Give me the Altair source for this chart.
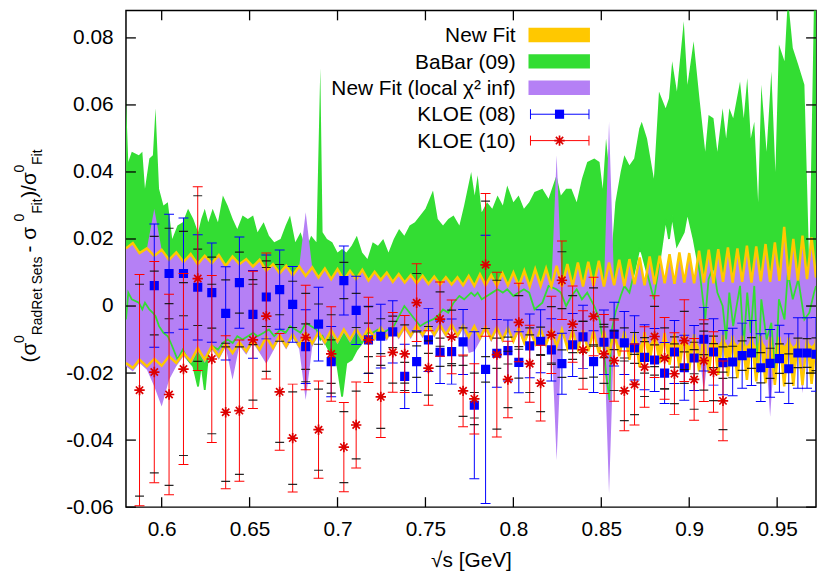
import altair as alt
import pandas as pd

# ---------------- data ----------------
kloe08_x = [0.5958, 0.6042, 0.6124, 0.6205, 0.6285, 0.6364, 0.6442, 0.6519, 0.6595, 0.6671,
            0.6745, 0.6819, 0.6892, 0.6964, 0.7036, 0.7106, 0.7176, 0.7246, 0.7314, 0.7382,
            0.7450, 0.7517, 0.7583, 0.7649, 0.7714, 0.7778, 0.7842, 0.7906, 0.7969, 0.8031,
            0.8093, 0.8155, 0.8216, 0.8276, 0.8337, 0.8396, 0.8456, 0.8515, 0.8573, 0.8631,
            0.8689, 0.8746, 0.8803, 0.8860, 0.8916, 0.8972, 0.9028, 0.9083, 0.9138, 0.9192,
            0.9247, 0.9301, 0.9354, 0.9407, 0.9460, 0.9513, 0.9566, 0.9618, 0.9670, 0.9721]
kloe08_y = [0.0061, 0.0097, 0.0097, 0.0056, 0.0040, -0.0022, 0.0070, -0.0025, 0.0027, 0.0049,
            0.0005, -0.0121, -0.0054, -0.0166, 0.0076, -0.0013, -0.0101, -0.0090, -0.0077, -0.0210,
            -0.0166, -0.0101, -0.0138, -0.0136, -0.0107, -0.0296, -0.0189, -0.0141, -0.0133, -0.0168,
            -0.0119, -0.0105, -0.0131, -0.0172, -0.0116, -0.0092, -0.0166, -0.0108, -0.0084, -0.0110,
            -0.0125, -0.0153, -0.0161, -0.0200, -0.0137, -0.0184, -0.0155, -0.0099, -0.0137, -0.0169,
            -0.0167, -0.0148, -0.0140, -0.0184, -0.0171, -0.0157, -0.0187, -0.0140, -0.0140, -0.0144]
kloe08_err = [0.0184, 0.0177, 0.0166, 0.0157, 0.0148, 0.0139, 0.0136, 0.0131, 0.0125, 0.0118,
              0.0113, 0.0110, 0.0110, 0.0105, 0.0103, 0.0102, 0.0100, 0.0095, 0.0093, 0.0096,
              0.0092, 0.0094, 0.0093, 0.0097, 0.0097, 0.0219, 0.0400, 0.0101, 0.0091, 0.0091,
              0.0095, 0.0094, 0.0093, 0.0091, 0.0094, 0.0094, 0.0092, 0.0096, 0.0095, 0.0094,
              0.0096, 0.0097, 0.0094, 0.0091, 0.0094, 0.0097, 0.0097, 0.0095, 0.0099, 0.0096,
              0.0101, 0.0097, 0.0097, 0.0101, 0.0101, 0.0100, 0.0104, 0.0105, 0.0105, 0.0110]
kloe08_inner = [0.0147, 0.0135, 0.0126, 0.0114, 0.0106, 0.0100, 0.0091, 0.0090, 0.0088, 0.0075,
                0.0069, 0.0068, 0.0060, 0.0065, 0.0054, 0.0051, 0.0050, 0.0052, 0.0047, 0.0042,
                0.0047, 0.0040, 0.0042, 0.0042, 0.0042, 0.0038, 0.0038, 0.0045, 0.0040, 0.0047,
                0.0054, 0.0042, 0.0043, 0.0041, 0.0043, 0.0046, 0.0046, 0.0046, 0.0046, 0.0045,
                0.0046, 0.0047, 0.0045, 0.0047, 0.0045, 0.0047, 0.0047, 0.0046, 0.0047, 0.0047,
                0.0047, 0.0044, 0.0046, 0.0045, 0.0045, 0.0044, 0.0044, 0.0044, 0.0043, 0.0049]

kloe10_x = [0.5874, 0.5958, 0.6042, 0.6124, 0.6205, 0.6285, 0.6364, 0.6442, 0.6519, 0.6595,
            0.6671, 0.6745, 0.6819, 0.6892, 0.6964, 0.7036, 0.7106, 0.7176, 0.7246, 0.7314,
            0.7382, 0.7450, 0.7517, 0.7583, 0.7649, 0.7714, 0.7778, 0.7842, 0.7906, 0.7969,
            0.8031, 0.8093, 0.8155, 0.8216, 0.8276, 0.8337, 0.8396, 0.8456, 0.8515, 0.8573,
            0.8631, 0.8689, 0.8746, 0.8803, 0.8860, 0.8916, 0.8972, 0.9028, 0.9083, 0.9138,
            0.9192]
kloe10_y = [-0.0251, -0.0197, -0.0264, -0.0188, 0.0082, -0.0158, -0.0317, -0.0312, -0.0101, -0.0030,
            -0.0256, -0.0394, -0.0094, -0.0369, -0.0143, -0.0421, -0.0355, -0.0101, -0.0271, -0.0138,
            -0.0143, 0.0010, -0.0185, -0.0039, -0.0092, -0.0253, -0.0277, 0.0123, -0.0145, -0.0219,
            -0.0049, -0.0172, -0.0230, -0.0086, 0.0077, -0.0054, -0.0131, -0.0031, -0.0143, -0.0163,
            -0.0253, -0.0234, -0.0182, -0.0091, -0.0156, -0.0202, -0.0103, -0.0219, -0.0163, -0.0197,
            -0.0283]
kloe10_err = [0.0345, 0.0330, 0.0299, 0.0285, 0.0274, 0.0249, 0.0228, 0.0211, 0.0205, 0.0188,
              0.0174, 0.0161, 0.0156, 0.0145, 0.0141, 0.0133, 0.0128, 0.0127, 0.0121, 0.0119,
              0.0115, 0.0116, 0.0111, 0.0111, 0.0110, 0.0107, 0.0105, 0.0213, 0.0246, 0.0114,
              0.0117, 0.0115, 0.0113, 0.0115, 0.0117, 0.0114, 0.0117, 0.0117, 0.0118, 0.0121,
              0.0119, 0.0121, 0.0120, 0.0122, 0.0122, 0.0122, 0.0122, 0.0122, 0.0122, 0.0120,
              0.0119]
kloe10_inner = [0.0316, 0.0301, 0.0271, 0.0258, 0.0247, 0.0223, 0.0206, 0.0190, 0.0180, 0.0165,
                0.0151, 0.0138, 0.0132, 0.0121, 0.0117, 0.0106, 0.0101, 0.0099, 0.0094, 0.0092,
                0.0087, 0.0087, 0.0081, 0.0081, 0.0080, 0.0076, 0.0077, 0.0190, 0.0222, 0.0084,
                0.0080, 0.0086, 0.0085, 0.0084, 0.0085, 0.0085, 0.0085, 0.0085, 0.0088, 0.0089,
                0.0089, 0.0090, 0.0088, 0.0090, 0.0091, 0.0089, 0.0087, 0.0089, 0.0088, 0.0085,
                0.0086]

babar_x = [0.5797, 0.5810, 0.5830, 0.5870, 0.5890, 0.5905, 0.5930, 0.5950, 0.5965, 0.5985,
           0.6010, 0.6035, 0.6060, 0.6090, 0.6120, 0.6150, 0.6180, 0.6207, 0.6225, 0.6245,
           0.6265, 0.6290, 0.6320, 0.6348, 0.6375, 0.6404, 0.6430, 0.6460, 0.6490, 0.6520,
           0.6545, 0.6580, 0.6610, 0.6640, 0.6676, 0.6705, 0.6730, 0.6760, 0.6790, 0.6820,
           0.6850, 0.6880, 0.6902, 0.6915, 0.6940, 0.6970, 0.7000, 0.7026, 0.7050, 0.7080,
           0.7110, 0.7140, 0.7170, 0.7200, 0.7230, 0.7260, 0.7290, 0.7320, 0.7350, 0.7380,
           0.7410, 0.7440, 0.7470, 0.7500, 0.7543, 0.7570, 0.7600, 0.7630, 0.7660, 0.7693,
           0.7720, 0.7760, 0.7780, 0.7797, 0.7820, 0.7850, 0.7880, 0.7910, 0.7940, 0.7965,
           0.8000, 0.8030, 0.8060, 0.8090, 0.8120, 0.8165, 0.8200, 0.8245, 0.8270, 0.8300,
           0.8330, 0.8360, 0.8390, 0.8420, 0.8460, 0.8490, 0.8508, 0.8527, 0.8546, 0.8556,
           0.8580, 0.8610, 0.8631, 0.8660, 0.8687, 0.8716, 0.8730, 0.8760, 0.8799, 0.8828,
           0.8866, 0.8885, 0.8903, 0.8930, 0.8969, 0.8990, 0.9025, 0.9060, 0.9091, 0.9110,
           0.9138, 0.9160, 0.9190, 0.9210, 0.9228, 0.9250, 0.9289, 0.9310, 0.9330, 0.9350,
           0.9370, 0.9392, 0.9410, 0.9440, 0.9467, 0.9490, 0.9510, 0.9542, 0.9561, 0.9589,
           0.9620, 0.9655, 0.9683, 0.9710, 0.9721]
babar_hi = [0.062, 0.043, 0.046, 0.045, 0.046, 0.035, 0.044, 0.045, 0.059, 0.035,
            0.030, 0.031, 0.020, 0.024, 0.025, 0.029, 0.026, 0.022, 0.026, 0.029,
            0.025, 0.029, 0.025, 0.033, 0.030, 0.026, 0.023, 0.027, 0.026, 0.027,
            0.022, 0.025, 0.021, 0.019, 0.020, 0.024, 0.027, 0.019, 0.022, 0.017,
            0.021, 0.019, 0.071, 0.022, 0.020, 0.019, 0.016, 0.017, 0.016, 0.018,
            0.021, 0.016, 0.014, 0.019, 0.018, 0.020, 0.016, 0.020, 0.023, 0.021,
            0.024, 0.025, 0.027, 0.029, 0.0345, 0.026, 0.024, 0.026, 0.027, 0.024,
            0.030, 0.040, 0.033, 0.039, 0.028, 0.031, 0.029, 0.033, 0.030, 0.036,
            0.031, 0.033, 0.029, 0.031, 0.034, 0.035, 0.032, 0.039, 0.033, 0.035,
            0.035, 0.031, 0.038, 0.043, 0.044, 0.043, 0.035, 0.050, 0.040, 0.014,
            0.031, 0.040, 0.045, 0.042, 0.044, 0.053, 0.055, 0.050, 0.038, 0.064,
            0.059, 0.062, 0.073, 0.064, 0.085, 0.066, 0.079, 0.061, 0.046, 0.057,
            0.056, 0.046, 0.059, 0.050, 0.059, 0.056, 0.067, 0.056, 0.068, 0.050,
            0.055, 0.031, 0.066, 0.046, 0.070, 0.040, 0.078, 0.073, 0.092, 0.077,
            0.072, 0.066, 0.011, 0.092, 0.092]
babar_lo = [-0.004, 0.004, 0.002, 0.001, -0.001, 0.001, -0.001, -0.002, -0.003, -0.006,
            -0.008, -0.009, -0.012, -0.016, -0.013, -0.016, -0.018, -0.024, -0.017, -0.025,
            -0.014, -0.012, -0.013, -0.011, -0.010, -0.011, -0.009, -0.010, -0.009, -0.008,
            -0.009, -0.008, -0.007, -0.009, -0.007, -0.008, -0.006, -0.007, -0.008, -0.005,
            -0.006, -0.007, -0.010, -0.009, -0.012, -0.015, -0.018, -0.027, -0.017, -0.016,
            -0.013, -0.011, -0.008, -0.008, -0.007, -0.008, -0.007, -0.006, -0.003, 0.000,
            -0.002, -0.004, -0.006, -0.005, -0.004, -0.003, -0.001, -0.002, 0.001, 0.003,
            0.002, 0.004, 0.003, 0.004, 0.002, 0.003, 0.004, 0.005, 0.004, 0.005,
            0.003, 0.004, 0.005, 0.004, -0.001, 0.001, 0.006, 0.005, 0.004, 0.000,
            0.003, 0.005, 0.002, 0.004, 0.000, -0.004, -0.010, -0.020, -0.028, -0.008,
            -0.002, 0.003, 0.006, 0.004, 0.010, 0.017, 0.016, 0.010, 0.002, 0.012,
            0.026, 0.020, 0.027, 0.018, 0.022, 0.028, 0.020, 0.010, -0.004, 0.008,
            0.012, 0.004, 0.000, -0.010, 0.004, -0.006, 0.006, -0.012, 0.004, -0.008,
            0.006, -0.020, 0.002, -0.010, -0.005, -0.022, 0.002, -0.004, 0.010, 0.002,
            0.008, -0.004, -0.002, 0.004, 0.006]

band_x = [0.5797, 0.5836, 0.5874, 0.5916, 0.5958, 0.6000, 0.6042, 0.6083, 0.6124, 0.6165,
          0.6205, 0.6245, 0.6285, 0.6325, 0.6364, 0.6403, 0.6442, 0.6481, 0.6519, 0.6557,
          0.6595, 0.6633, 0.6671, 0.6708, 0.6745, 0.6782, 0.6819, 0.6856, 0.6892, 0.6928,
          0.6964, 0.7000, 0.7036, 0.7071, 0.7106, 0.7141, 0.7176, 0.7211, 0.7246, 0.7280,
          0.7314, 0.7348, 0.7382, 0.7416, 0.7450, 0.7484, 0.7517, 0.7550, 0.7583, 0.7616,
          0.7649, 0.7682, 0.7714, 0.7746, 0.7778, 0.7810, 0.7842, 0.7874, 0.7906, 0.7938,
          0.7969, 0.8000, 0.8031, 0.8062, 0.8093, 0.8124, 0.8155, 0.8186, 0.8216, 0.8246,
          0.8276, 0.8307, 0.8337, 0.8367, 0.8396, 0.8426, 0.8456, 0.8486, 0.8515, 0.8544,
          0.8573, 0.8602, 0.8631, 0.8660, 0.8689, 0.8718, 0.8746, 0.8775, 0.8803, 0.8832,
          0.8860, 0.8888, 0.8916, 0.8944, 0.8972, 0.9000, 0.9028, 0.9056, 0.9083, 0.9111,
          0.9138, 0.9165, 0.9192, 0.9220, 0.9247, 0.9274, 0.9301, 0.9328, 0.9354, 0.9381,
          0.9407, 0.9434, 0.9460, 0.9487, 0.9513, 0.9540, 0.9566, 0.9592, 0.9618, 0.9644,
          0.9670, 0.9696, 0.9721]
newfit_hi = [0.0172, 0.0188, 0.0158, 0.0172, 0.0150, 0.0168, 0.0138, 0.0160, 0.0132, 0.0155,
             0.0125, 0.0150, 0.0128, 0.0152, 0.0120, 0.0148, 0.0125, 0.0140, 0.0118, 0.0138,
             0.0105, 0.0125, 0.0098, 0.0120, 0.0092, 0.0118, 0.0090, 0.0115, 0.0085, 0.0112,
             0.0080, 0.0110, 0.0078, 0.0105, 0.0080, 0.0108, 0.0076, 0.0102, 0.0078, 0.0100,
             0.0072, 0.0095, 0.0070, 0.0092, 0.0068, 0.0090, 0.0066, 0.0088, 0.0064, 0.0086,
             0.0064, 0.0086, 0.0062, 0.0090, 0.0060, 0.0095, 0.0062, 0.0092, 0.0060, 0.0098,
             0.0062, 0.0100, 0.0060, 0.0105, 0.0058, 0.0110, 0.0060, 0.0112, 0.0058, 0.0120,
             0.0058, 0.0125, 0.0060, 0.0130, 0.0058, 0.0132, 0.0060, 0.0135, 0.0058, 0.0130,
             0.0062, 0.0138, 0.0060, 0.0140, 0.0065, 0.0145, 0.0062, 0.0148, 0.0065, 0.0150,
             0.0068, 0.0155, 0.0066, 0.0160, 0.0070, 0.0158, 0.0068, 0.0165, 0.0070, 0.0168,
             0.0068, 0.0170, 0.0072, 0.0175, 0.0070, 0.0172, 0.0072, 0.0180, 0.0070, 0.0178,
             0.0074, 0.0185, 0.0072, 0.0190, 0.0075, 0.0236, 0.0078, 0.0200, 0.0076, 0.0210,
             0.0080, 0.0205, 0.0085]
newfit_lo = [-0.0170, -0.0185, -0.0160, -0.0180, -0.0158, -0.0178, -0.0150, -0.0170, -0.0140, -0.0165,
             -0.0125, -0.0160, -0.0120, -0.0150, -0.0112, -0.0140, -0.0108, -0.0135, -0.0100, -0.0130,
             -0.0092, -0.0125, -0.0088, -0.0120, -0.0085, -0.0118, -0.0080, -0.0112, -0.0078, -0.0108,
             -0.0072, -0.0105, -0.0070, -0.0100, -0.0068, -0.0098, -0.0066, -0.0096, -0.0064, -0.0094,
             -0.0062, -0.0090, -0.0060, -0.0088, -0.0058, -0.0086, -0.0056, -0.0085, -0.0056, -0.0085,
             -0.0056, -0.0088, -0.0058, -0.0092, -0.0060, -0.0095, -0.0062, -0.0098, -0.0064, -0.0100,
             -0.0066, -0.0105, -0.0066, -0.0110, -0.0068, -0.0112, -0.0068, -0.0115, -0.0070, -0.0120,
             -0.0070, -0.0125, -0.0072, -0.0130, -0.0072, -0.0135, -0.0074, -0.0140, -0.0074, -0.0145,
             -0.0076, -0.0150, -0.0076, -0.0160, -0.0078, -0.0182, -0.0078, -0.0165, -0.0080, -0.0170,
             -0.0080, -0.0175, -0.0082, -0.0185, -0.0082, -0.0190, -0.0084, -0.0195, -0.0084, -0.0200,
             -0.0086, -0.0205, -0.0086, -0.0210, -0.0088, -0.0215, -0.0088, -0.0220, -0.0090, -0.0225,
             -0.0090, -0.0230, -0.0092, -0.0235, -0.0092, -0.0240, -0.0094, -0.0238, -0.0094, -0.0236,
             -0.0096, -0.0232, -0.0098]
local_hi = [0.0172, 0.0188, 0.0158, 0.0172, 0.0290, 0.0168, 0.0138, 0.0160, 0.0132, 0.0155,
            0.0125, 0.0150, 0.0128, 0.0152, 0.0120, 0.0148, 0.0125, 0.0140, 0.0118, 0.0138,
            0.0105, 0.0125, 0.0098, 0.0120, 0.0092, 0.0118, 0.0280, 0.0115, 0.0085, 0.0112,
            0.0080, 0.0110, 0.0078, 0.0105, 0.0080, 0.0108, 0.0076, 0.0102, 0.0078, 0.0100,
            0.0072, 0.0095, 0.0070, 0.0092, 0.0068, 0.0090, 0.0066, 0.0088, 0.0064, 0.0086,
            0.0064, 0.0086, 0.0062, 0.0090, 0.0060, 0.0095, 0.0062, 0.0092, 0.0060, 0.0098,
            0.0062, 0.0100, 0.0060, 0.0105, 0.0058, 0.0110, 0.0060, 0.0112, 0.0058, 0.0450,
            0.0058, 0.0125, 0.0060, 0.0130, 0.0058, 0.0132, 0.0060, 0.0135, 0.0058, 0.0550,
            0.0062, 0.0138, 0.0060, 0.0140, 0.0065, 0.0145, 0.0062, 0.0148, 0.0065, 0.0150,
            0.0068, 0.0155, 0.0066, 0.0160, 0.0070, 0.0158, 0.0068, 0.0165, 0.0070, 0.0168,
            0.0068, 0.0170, 0.0072, 0.0175, 0.0070, 0.0172, 0.0072, 0.0180, 0.0070, 0.0178,
            0.0074, 0.0185, 0.0072, 0.0190, 0.0075, 0.0236, 0.0078, 0.0200, 0.0076, 0.0210,
            0.0080, 0.0205, 0.0085]
local_lo = [-0.0180, -0.0195, -0.0170, -0.0190, -0.0240, -0.0300, -0.0220, -0.0180, -0.0150, -0.0175,
            -0.0135, -0.0170, -0.0130, -0.0160, -0.0122, -0.0220, -0.0118, -0.0145, -0.0110, -0.0140,
            -0.0172, -0.0135, -0.0098, -0.0130, -0.0095, -0.0128, -0.0280, -0.0122, -0.0088, -0.0118,
            -0.0082, -0.0115, -0.0080, -0.0110, -0.0078, -0.0108, -0.0076, -0.0106, -0.0074, -0.0104,
            -0.0072, -0.0100, -0.0070, -0.0098, -0.0068, -0.0096, -0.0066, -0.0095, -0.0066, -0.0095,
            -0.0066, -0.0098, -0.0068, -0.0140, -0.0135, -0.0105, -0.0072, -0.0108, -0.0074, -0.0110,
            -0.0076, -0.0112, -0.0076, -0.0115, -0.0078, -0.0115, -0.0078, -0.0118, -0.0080, -0.0460,
            -0.0080, -0.0125, -0.0082, -0.0128, -0.0082, -0.0130, -0.0084, -0.0132, -0.0084, -0.0560,
            -0.0086, -0.0120, -0.0086, -0.0118, -0.0088, -0.0120, -0.0088, -0.0115, -0.0090, -0.0118,
            -0.0090, -0.0115, -0.0092, -0.0118, -0.0092, -0.0120, -0.0094, -0.0122, -0.0260, -0.0120,
            -0.0096, -0.0118, -0.0096, -0.0120, -0.0098, -0.0118, -0.0098, -0.0120, -0.0100, -0.0122,
            -0.0100, -0.0120, -0.0330, -0.0122, -0.0102, -0.0120, -0.0102, -0.0122, -0.0104, -0.0260,
            -0.0104, -0.0120, -0.0106]

x_ticks = [0.6, 0.65, 0.7, 0.75, 0.8, 0.85, 0.9, 0.95]
y_ticks = [-0.06, -0.04, -0.02, 0, 0.02, 0.04, 0.06, 0.08]

legend_labels = ["New Fit", "BaBar (09)", "New Fit (local \u03c7\u00b2 inf)", "KLOE (08)", "KLOE (10)"]

# ---------------- styling ----------------
W, H = 696, 501
FONT = "Liberation Sans"
YELLOW = "#ffc800"
GREEN = "#33dd33"
PURPLE = "#b580f5"
BLUE = "#0000ff"
RED = "#ff0000"
STAR = "M-1,0L1,0M0,-1L0,1M-0.7,-0.7L0.7,0.7M-0.7,0.7L0.7,-0.7"

XS = alt.Scale(domain=[0.5797, 0.9721], nice=False, zero=False)
YS = alt.Scale(domain=[-0.06, 0.0882], nice=False, zero=False)

xaxis = alt.Axis(values=x_ticks, format="~g", ticks=False, tickSize=0, domain=False, grid=False,
                 labelFont=FONT, labelFontSize=21, labelColor="black", labelPadding=12,
                 labelFlush=False,
                 title="\u221as [GeV]", titleFont=FONT, titleFontSize=21, titleFontWeight="normal",
                 titleColor="black", titleY=60, titleBaseline="alphabetic")
yaxis = alt.Axis(values=y_ticks, ticks=False, tickSize=0, domain=False, grid=False,
                 labelExpr="datum.value == 0 ? '0' : replace(format(datum.value, '.2f'), '\u2212', '-')",
                 labelFont=FONT, labelFontSize=21, labelColor="black", labelPadding=13,
                 title=None)


def X(f):
    return alt.X(f"{f}:Q", scale=XS, axis=xaxis)


def Y(f):
    return alt.Y(f"{f}:Q", scale=YS, axis=yaxis)


df_bb = pd.DataFrame({"x": babar_x, "lo": babar_lo, "hi": babar_hi})
df_band = pd.DataFrame({"x": band_x, "nlo": newfit_lo, "nhi": newfit_hi,
                        "llo": local_lo, "lhi": local_hi})
df08 = pd.DataFrame({"x": kloe08_x, "y": kloe08_y, "e": kloe08_err, "i": kloe08_inner})
df10 = pd.DataFrame({"x": kloe10_x, "y": kloe10_y, "e": kloe10_err, "i": kloe10_inner})
for d in (df08, df10):
    d["lo"] = d["y"] - d["e"]
    d["hi"] = d["y"] + d["e"]
    d["ilo"] = d["y"] - d["i"]
    d["ihi"] = d["y"] + d["i"]
df_xt = pd.DataFrame({"v": x_ticks})
df_yt = pd.DataFrame({"v": y_ticks})
one = pd.DataFrame({"k": [0]})

layers = []

# bands
layers.append(alt.Chart(df_bb).mark_area(color=GREEN, opacity=1, clip=True)
              .encode(x=X("x"), y=Y("lo"), y2=alt.Y2("hi")))
layers.append(alt.Chart(df_band).mark_area(color=YELLOW, opacity=1, clip=True)
              .encode(x=X("x"), y=Y("nlo"), y2=alt.Y2("nhi")))
layers.append(alt.Chart(df_band).mark_area(color=PURPLE, opacity=1, clip=True)
              .encode(x=X("x"), y=Y("llo"), y2=alt.Y2("lhi")))
layers.append(alt.Chart(df_bb).mark_line(color=GREEN, strokeWidth=1.8, clip=True)
              .encode(x=X("x"), y=Y("lo")))
layers.append(alt.Chart(df_band).mark_line(color=YELLOW, strokeWidth=2.5, clip=True)
              .encode(x=X("x"), y=Y("nhi")))
layers.append(alt.Chart(df_band).mark_line(color=YELLOW, strokeWidth=2.5, clip=True)
              .encode(x=X("x"), y=Y("nlo")))


def errbars(df, color, marker):
    out = []
    out.append(alt.Chart(df).mark_rule(color=color, strokeWidth=1, clip=True)
               .encode(x=X("x"), y=Y("lo"), y2=alt.Y2("hi")))
    for f in ("lo", "hi"):
        out.append(alt.Chart(df).mark_tick(color=color, orient="horizontal", size=10,
                                           thickness=1, opacity=1, clip=True)
                   .encode(x=X("x"), y=Y(f)))
    for f in ("ilo", "ihi"):
        out.append(alt.Chart(df).mark_tick(color="#111111", orient="horizontal", size=9,
                                           thickness=1.2, opacity=0.9, clip=True)
                   .encode(x=X("x"), y=Y(f)))
    out.append(marker(alt.Chart(df)).encode(x=X("x"), y=Y("y")))
    return out


layers += errbars(df08, BLUE,
                  lambda c: c.mark_point(shape="square", filled=True, size=85, color=BLUE,
                                         opacity=1, clip=True))
layers += errbars(df10, RED,
                  lambda c: c.mark_point(shape=STAR, filled=False, size=110, color="#dd0000",
                                         strokeWidth=1.7, opacity=1, clip=True))

# inward ticks on all four sides
layers.append(alt.Chart(df_xt).mark_rule(color="black", strokeWidth=1.3)
              .encode(x=X("v"), y=alt.value(H - 10), y2=alt.value(H)))
layers.append(alt.Chart(df_xt).mark_rule(color="black", strokeWidth=1.3)
              .encode(x=X("v"), y=alt.value(0), y2=alt.value(10)))
layers.append(alt.Chart(df_yt).mark_rule(color="black", strokeWidth=1.3)
              .encode(y=Y("v"), x=alt.value(0), x2=alt.value(10)))
layers.append(alt.Chart(df_yt).mark_rule(color="black", strokeWidth=1.3)
              .encode(y=Y("v"), x=alt.value(W - 10), x2=alt.value(W)))

# legend
LX_TEXT = 393
BOX_X0, BOX_X1 = 406, 468
rows_base = [32, 58.7, 85.3, 112, 138.7]
for lab, yb in zip(legend_labels, rows_base):
    layers.append(alt.Chart(one).mark_text(text=lab, font=FONT, fontSize=21, color="black",
                                           align="right", baseline="alphabetic")
                  .encode(x=alt.value(LX_TEXT), y=alt.value(yb)))
for col, yb in zip([YELLOW, GREEN, PURPLE], rows_base[:3]):
    layers.append(alt.Chart(one).mark_rect(color=col, opacity=1)
                  .encode(x=alt.value(BOX_X0), x2=alt.value(BOX_X1),
                          y=alt.value(yb - 14.5), y2=alt.value(yb)))
for col, yc, mk in [(BLUE, 104.7, "sq"), (RED, 131.3, "st")]:
    layers.append(alt.Chart(one).mark_rule(color=col, strokeWidth=1)
                  .encode(x=alt.value(BOX_X0 + 2), x2=alt.value(BOX_X1 - 1), y=alt.value(yc)))
    for xe in (BOX_X0 + 2, BOX_X1 - 1):
        layers.append(alt.Chart(one).mark_rule(color=col, strokeWidth=1)
                      .encode(x=alt.value(xe), y=alt.value(yc - 5), y2=alt.value(yc + 5)))
    if mk == "sq":
        m = alt.Chart(one).mark_point(shape="square", filled=True, size=85, color=BLUE, opacity=1)
    else:
        m = alt.Chart(one).mark_point(shape=STAR, filled=False, size=110, color="#dd0000",
                                      strokeWidth=1.7, opacity=1)
    layers.append(m.encode(x=alt.value(437.3), y=alt.value(yc)))

# rotated y-axis title built from pieces (main / superscript / subscript)
MAIN_X, SUP_X, SUB_X = -91, -103, -85
title_pieces = [
    ("(\u03c3", 21, MAIN_X, 355.0),
    ("0", 14, SUP_X, 335.4),
    ("RadRet Sets", 14, SUB_X, 327.6),
    (" - \u03c3", 21, MAIN_X, 244.2),
    ("0", 14, SUP_X, 213.0),
    ("Fit", 14, SUB_X, 205.2),
    (")/\u03c3", 21, MAIN_X, 189.0),
    ("0", 14, SUP_X, 163.6),
    ("Fit", 14, SUB_X, 155.8),
]
for t, fs, xp, yp in title_pieces:
    layers.append(alt.Chart(one).mark_text(text=t, font=FONT, fontSize=fs, color="black",
                                           angle=270, align="left", baseline="alphabetic")
                  .encode(x=alt.value(xp), y=alt.value(yp)))

chart = (alt.layer(*layers)
         .properties(width=W, height=H,
                     padding={"left": 119, "top": 0, "right": 1, "bottom": 64},
                     autosize=alt.AutoSizeParams(type="none"),
                     background="white")
         .configure_view(stroke="black", strokeWidth=1.5))

chart.save("out.html", embed_options={"renderer": "svg", "actions": False})
